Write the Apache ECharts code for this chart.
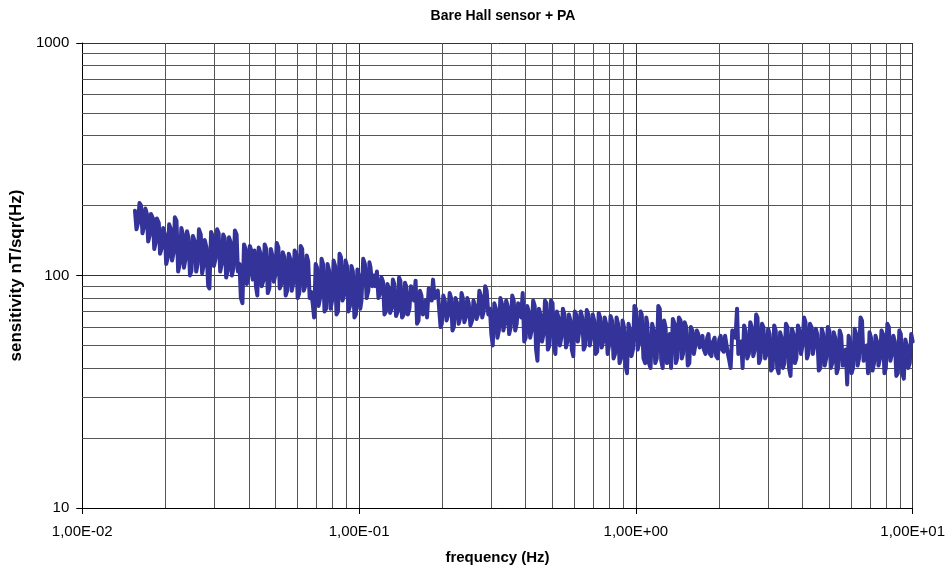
<!DOCTYPE html>
<html>
<head>
<meta charset="utf-8">
<script src="https://cdn.jsdelivr.net/npm/echarts@6/dist/echarts.min.js"></script>
<style>
html,body{margin:0;padding:0;background:#fff;}
#chart{width:948px;height:570px;}
</style>
</head>
<body>
<div id="chart"></div>
<script>
const titleText = 'Bare Hall sensor + PA';
const xName = 'frequency (Hz)';
const yName = 'sensitivity nT/sqr(Hz)';

const freq = [
0.0155,0.0159,0.0163,0.0167,0.0171,0.0175,0.0180,0.0184,0.0189,0.0194,
0.0199,0.0204,0.0209,0.0214,0.0219,0.0225,0.0231,0.0236,0.0242,0.0248,
0.0255,0.0261,0.0268,0.0274,0.0281,0.0288,0.0296,0.0303,0.0311,0.0319,
0.0327,0.0335,0.0343,0.0352,0.0361,0.0370,0.0379,0.0389,0.0398,0.0408,
0.0419,0.0429,0.0440,0.0451,0.0462,0.0474,0.0486,0.0498,0.0511,0.0524,
0.0537,0.0550,0.0564,0.0578,0.0593,0.0608,0.0623,0.0639,0.0655,0.0671,
0.0688,0.0705,0.0723,0.0741,0.0760,0.0779,0.0799,0.0819,0.0839,0.0860,
0.0882,0.0904,0.0927,0.0950,0.0974,0.0998,0.102,0.105,0.108,0.110,
0.113,0.116,0.119,0.122,0.125,0.128,0.131,0.134,0.138,0.141,
0.145,0.148,0.152,0.156,0.160,0.164,0.168,0.172,0.176,0.181,
0.185,0.190,0.195,0.199,0.204,0.210,0.215,0.220,0.226,0.232,
0.237,0.243,0.249,0.256,0.262,0.269,0.275,0.282,0.289,0.297,
0.304,0.312,0.320,0.328,0.336,0.344,0.353,0.362,0.371,0.380,
0.390,0.400,0.410,0.420,0.431,0.441,0.452,0.464,0.475,0.487,
0.500,0.512,0.525,0.538,0.552,0.566,0.580,0.594,0.609,0.625,
0.640,0.656,0.673,0.690,0.707,0.725,0.743,0.762,0.781,0.800,
0.820,0.841,0.862,0.884,0.906,0.929,0.952,0.976,1.00,1.03,
1.05,1.08,1.10,1.13,1.16,1.19,1.22,1.25,1.28,1.31,
1.34,1.38,1.41,1.45,1.48,1.52,1.56,1.60,1.64,1.68,
1.72,1.76,1.81,1.85,1.90,1.95,2.00,2.05,2.10,2.15,
2.20,2.26,2.32,2.37,2.43,2.49,2.56,2.62,2.69,2.75,
2.82,2.89,2.97,3.04,3.12,3.20,3.28,3.36,3.44,3.53,
3.62,3.71,3.80,3.90,4.00,4.10,4.20,4.31,4.41,4.52,
4.64,4.75,4.87,5.00,5.12,5.25,5.38,5.52,5.66,5.80,
5.94,6.09,6.25,6.40,6.56,6.73,6.90,7.07,7.25,7.43,
7.62,7.81,8.00,8.20,8.41,8.62,8.84,9.06,9.29,9.52,
9.76,10.0
];

const sensitivity = [
190,168,200,162,185,148,176,138,168,132,
150,120,158,126,172,112,150,118,145,105,
140,112,150,110,132,88,148,118,152,112,
145,105,140,108,150,112,76,130,98,128,
128,82,125,95,130,88,122,100,132,92,
120,86,118,92,124,84,130,90,115,85,
66,108,80,112,72,105,78,110,70,120,
82,110,74,104,68,100,78,112,86,108,
100,104,84,94,70,88,72,92,70,95,
68,90,72,85,95,64,82,72,66,84,
96,84,70,62,78,68,80,60,76,66,
80,66,76,64,74,68,82,70,86,72,
50,72,58,76,62,74,60,78,62,72,
84,54,70,58,74,43,68,56,76,50,
76,46,66,54,68,52,64,45,68,58,
66,50,68,54,64,47,66,52,62,50,
64,46,62,44,60,38,58,48,72,52,
68,42,62,40,58,44,72,40,60,44,
40,62,44,64,46,60,42,58,50,56,
52,48,54,46,52,45,53,48,55,46,
40,56,72,48,40,58,46,60,48,66,
44,60,46,56,40,58,38,54,42,60,
37,56,44,58,50,63,46,60,50,56,
40,56,44,58,42,54,40,55,44,34,
52,40,56,44,64,46,38,54,42,52,
44,56,40,60,46,52,38,56,36,50,
42,52
];

// intermediate readings (between consecutive frequencies above)
const freqMid = [
0.0157,0.0161,0.0165,0.0169,0.0173,0.0177,0.0182,0.0186,0.0191,0.0196,
0.0201,0.0206,0.0211,0.0216,0.0222,0.0228,0.0233,0.0239,0.0245,0.0251,
0.0258,0.0264,0.0271,0.0277,0.0285,0.0292,0.0299,0.0307,0.0315,0.0323,
0.0331,0.0339,0.0347,0.0356,0.0365,0.0374,0.0384,0.0393,0.0403,0.0413,
0.0424,0.0434,0.0445,0.0456,0.0468,0.0480,0.0492,0.0504,0.0517,0.0530,
0.0543,0.0557,0.0571,0.0585,0.0600,0.0615,0.0631,0.0647,0.0663,0.0680,
0.0697,0.0714,0.0732,0.0750,0.0769,0.0789,0.0809,0.0829,0.0850,0.0871,
0.0893,0.0915,0.0938,0.0962,0.0986,0.1010,0.1035,0.1065,0.1090,0.1115,
0.1145,0.1175,0.1205,0.1235,0.1265,0.1295,0.1325,0.1360,0.1395,0.1430,
0.1465,0.1500,0.1540,0.1580,0.1620,0.1660,0.1700,0.1740,0.1785,0.1830,
0.1875,0.1925,0.1970,0.2015,0.2070,0.2125,0.2175,0.2230,0.2290,0.2345,
0.2400,0.2460,0.2525,0.2590,0.2655,0.2720,0.2785,0.2855,0.2930,0.3005,
0.308,0.316,0.324,0.332,0.340,0.3485,0.3575,0.3665,0.3755,0.385,
0.395,0.405,0.415,0.4255,0.436,0.4465,0.458,0.4695,0.481,0.4935,
0.506,0.5185,0.5315,0.545,0.559,0.573,0.587,0.6015,0.617,0.6325,
0.648,0.6645,0.6815,0.6985,0.716,0.734,0.7525,0.7715,0.7905,0.810,
0.8305,0.8515,0.873,0.895,0.9175,0.9405,0.964,0.988,1.015,1.04,
1.065,1.09,1.115,1.145,1.175,1.205,1.235,1.265,1.295,1.325,
1.36,1.395,1.43,1.465,1.50,1.54,1.58,1.62,1.66,1.70,
1.74,1.785,1.83,1.875,1.925,1.975,2.025,2.075,2.125,2.175,
2.23,2.29,2.345,2.40,2.46,2.525,2.59,2.655,2.72,2.785,
2.855,2.93,3.005,3.08,3.16,3.24,3.32,3.40,3.485,3.575,
3.665,3.755,3.85,3.95,4.05,4.15,4.255,4.36,4.465,4.58,
4.695,4.81,4.935,5.06,5.185,5.315,5.45,5.59,5.73,5.87,
6.015,6.17,6.325,6.48,6.645,6.815,6.985,7.16,7.34,7.525,
7.715,7.905,8.10,8.305,8.515,8.73,8.95,9.175,9.405,9.64,
9.88
];

const sensitivityMid = [
158,205,152,194,140,184,130,176,124,160,
112,166,116,178,104,160,108,155,100,148,
104,158,102,142,90,154,110,158,104,150,
98,146,100,156,104,80,136,92,134,96,
90,132,90,136,84,130,94,138,88,126,
82,124,86,128,80,134,86,122,80,76,
112,74,118,70,112,72,116,68,124,78,
116,70,110,66,106,72,118,80,114,90,
90,80,98,68,92,69,96,67,98,66,
93,68,90,78,62,86,68,78,88,78,
80,86,60,82,64,84,58,80,62,84,
63,80,61,78,65,86,66,90,68,56,
76,54,80,58,78,56,82,58,76,66,
52,74,54,78,48,72,52,78,48,78,
50,70,50,72,49,68,48,70,52,70,
48,71,50,68,46,69,49,66,46,67,
44,66,42,64,41,62,45,74,48,70,
44,66,42,62,42,74,43,64,42,56,
65,42,66,44,63,41,60,46,58,49,
55,46,56,45,54,44,55,47,56,43,
58,54,46,52,61,44,63,45,68,42,
62,44,59,39,61,40,57,40,62,40,
59,42,61,46,66,44,62,46,59,39,
59,41,60,40,57,38,58,41,48,55,
38,59,41,66,43,50,57,39,55,41,
58,38,62,43,55,37,58,38,53,40,
56
];

const xMinorGrid = [0.02,0.03,0.04,0.05,0.06,0.07,0.08,0.09,
                    0.2,0.3,0.4,0.5,0.6,0.7,0.8,0.9,
                    2,3,4,5,6,7,8,9];
const yMinorGrid = [20,30,40,50,60,70,80,90,
                    200,300,400,500,600,700,800,900];

const seriesData = freq.map((f, i) => [f, sensitivity[i]])
  .concat(freqMid.map((f, i) => [f, sensitivityMid[i]]))
  .sort((a, b) => a[0] - b[0]);
const gridLineData = xMinorGrid.map(v => ({xAxis: v})).concat(yMinorGrid.map(v => ({yAxis: v})));

function sciLabel(v) {
  const e = Math.round(Math.log10(v));
  return '1,00E' + (e < 0 ? '-' : '+') + String(Math.abs(e)).padStart(2, '0');
}

const chart = echarts.init(document.getElementById('chart'), null, {renderer: 'canvas'});
chart.setOption({
  animation: false,
  backgroundColor: '#ffffff',
  title: {
    text: titleText,
    left: 498, top: 4, textAlign: 'center',
    textStyle: {fontFamily: 'Liberation Sans, Arial', fontSize: 14, fontWeight: 'bold', color: '#000'}
  },
  grid: {left: 82, right: 34, top: 43, bottom: 61, containLabel: false},
  xAxis: {
    type: 'log', logBase: 10, min: 0.01, max: 10,
    name: xName, nameLocation: 'middle', nameGap: 42,
    nameTextStyle: {fontFamily: 'Liberation Sans, Arial', fontSize: 15, fontWeight: 'bold', color: '#000'},
    axisLine: {show: true, onZero: false, lineStyle: {color: '#000', width: 1}},
    axisTick: {show: true, inside: false, length: 6, lineStyle: {color: '#000'}},
    axisLabel: {formatter: sciLabel, margin: 16, fontFamily: 'Liberation Sans, Arial', fontSize: 15, color: '#000'},
    splitLine: {show: true, lineStyle: {color: '#333', width: 1}},
    minorTick: {show: false}
  },
  yAxis: {
    type: 'log', logBase: 10, min: 10, max: 1000,
    name: yName, nameLocation: 'middle', nameGap: 55, nameRotate: 90,
    nameTextStyle: {fontFamily: 'Liberation Sans, Arial', fontSize: 17, fontWeight: 'bold', color: '#000'},
    axisLine: {show: true, onZero: false, lineStyle: {color: '#000', width: 1}},
    axisTick: {show: true, inside: false, length: 6, lineStyle: {color: '#000'}},
    axisLabel: {formatter: v => String(Math.round(v)), margin: 13, fontFamily: 'Liberation Sans, Arial', fontSize: 15, color: '#000'},
    splitLine: {show: true, lineStyle: {color: '#333', width: 1}}
  },
  series: [
    {
      type: 'line', data: [], z: 1, silent: true,
      markLine: {
        silent: true, symbol: ['none', 'none'], animation: false, z: 1,
        label: {show: false},
        lineStyle: {color: '#555', width: 1, type: 'solid'},
        emphasis: {disabled: true},
        data: gridLineData
      }
    },
    {
      type: 'line', data: seriesData, z: 5,
      showSymbol: false, symbol: 'none',
      lineStyle: {color: '#333399', width: 4, join: 'round', cap: 'round'},
      itemStyle: {color: '#333399'}
    }
  ]
});
</script>
</body>
</html>
